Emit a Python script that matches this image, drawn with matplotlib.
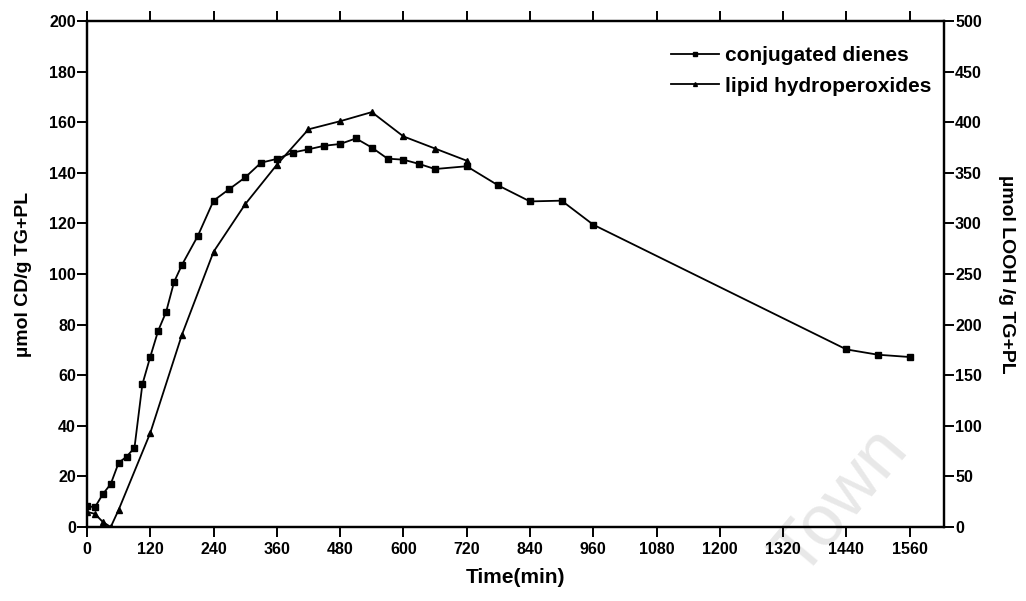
import numpy as np
import matplotlib.pyplot as plt

plt.rcParams['font.family'] = ['Liberation Sans', 'DejaVu Sans']

# conjugated dienes (left axis, umol CD/g TG+PL)
t_cd = [0, 15, 30, 45, 60, 75, 90, 105, 120, 135, 150, 165, 180, 210, 240, 270, 300,
        330, 360, 390, 420, 450, 480, 510, 540, 570, 600, 630, 660, 720, 780, 840,
        900, 960, 1440, 1500, 1560]
cd = [8.3, 7.8, 13, 17, 25.4, 27.8, 31.3, 56.4, 67.3, 77.6, 85, 96.8, 103.6, 115,
      129, 133.6, 138.2, 144, 145.5, 148, 149.3, 150.7, 151.4, 153.6, 150, 145.6,
      145.2, 143.5, 141.5, 142.6, 135, 128.7, 129, 119.5, 70.2, 68.1, 67.2]

# lipid hydroperoxides (right axis, umol LOOH/g TG+PL)
t_looh = [0, 15, 30, 45, 60, 120, 180, 240, 300, 360, 420, 480, 540, 600, 660, 720]
looh = [15, 13, 5, 0, 17, 93, 190, 272, 319, 358, 393, 401, 410, 386, 374, 362]

x_ticks = np.arange(0, 1561, 120)

fig = plt.figure(figsize=(10.26, 6.01), dpi=100)
ax = fig.add_axes([0.0848, 0.1231, 0.8352, 0.8419])
ax2 = ax.twinx()
ax.set_facecolor('none')
ax2.set_facecolor('none')

l1, = ax.plot(t_cd, cd, 'k-', marker='s', ms=4.6, lw=1.3, label='conjugated dienes')
l2, = ax2.plot(t_looh, looh, 'k-', marker='^', ms=4, lw=1.3, label='lipid hydroperoxides')

ax.set_xlim(0, 1625)
ax.set_ylim(0, 200)
ax2.set_ylim(0, 500)
ax.set_xticks(x_ticks)
ax.set_yticks(np.arange(0, 201, 20))
ax2.set_yticks(np.arange(0, 501, 50))

for a in (ax, ax2):
    for s in a.spines.values():
        s.set_linewidth(1.6)
ax.tick_params(axis='both', direction='out', length=7, width=1.4, labelsize=11.5,
               top=True)
ax2.tick_params(axis='y', direction='out', length=7, width=1.4, labelsize=11.5, pad=1)
ax.tick_params(axis='y', pad=1)
for lab in ax.get_xticklabels() + ax.get_yticklabels() + ax2.get_yticklabels():
    lab.set_fontweight('bold')

ax.set_xlabel('Time(min)', fontsize=15, fontweight='bold', labelpad=8)
ax.set_ylabel('\u00b5mol CD/g TG+PL', fontsize=14, fontweight='bold', labelpad=12)
ax2.set_ylabel('\u00b5mol LOOH /g TG+PL', fontsize=14, fontweight='bold',
               rotation=270, labelpad=24)

leg = ax2.legend([l1, l2], [l1.get_label(), l2.get_label()], loc='upper right',
                 bbox_to_anchor=(1.0, 0.975), frameon=False,
                 prop={'size': 15, 'weight': 'bold'},
                 handlelength=2.3, markerscale=0.7, borderaxespad=0.2,
                 handletextpad=0.3, labelspacing=0.55)

# faint scan watermark
fig.text(0.82, 0.165, 'Town', fontsize=52, color='#e8e8e8', rotation=50,
         ha='center', va='center', zorder=-1)

plt.savefig('out.png', dpi=100)
